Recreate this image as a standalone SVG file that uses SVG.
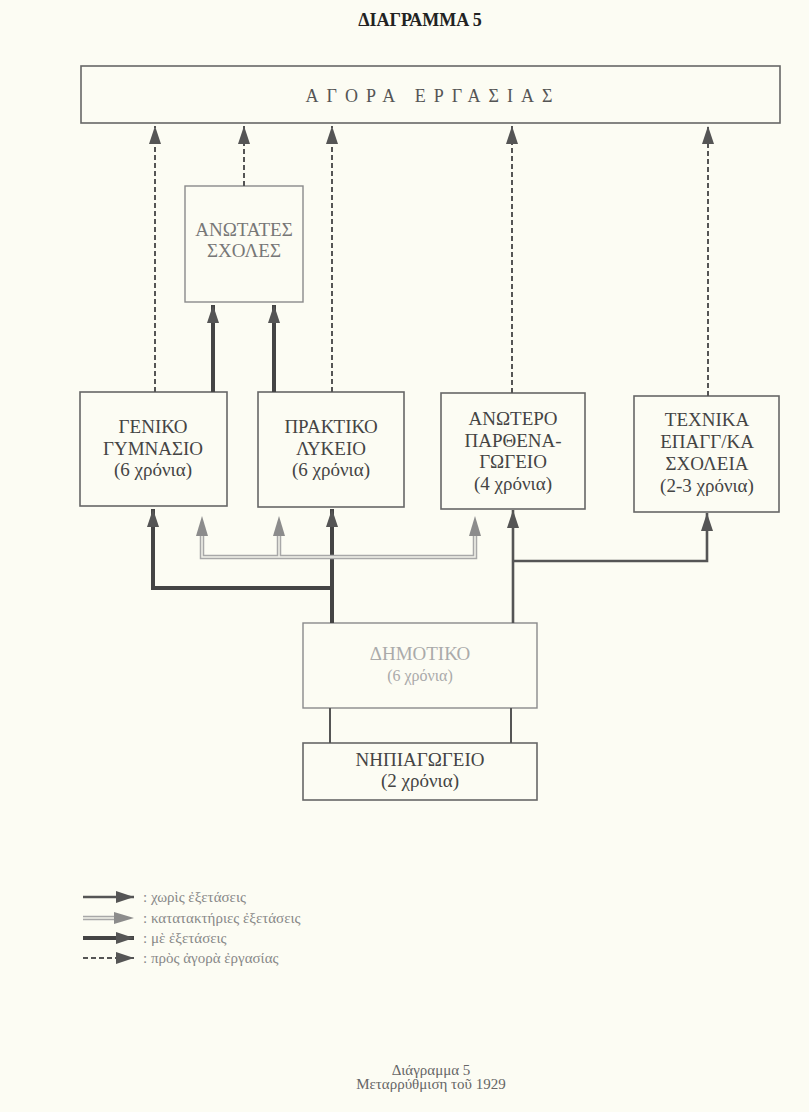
<svg xmlns="http://www.w3.org/2000/svg" width="809" height="1112" viewBox="0 0 809 1112">
<style>
  text { font-family: "Liberation Serif", "DejaVu Serif", "Times New Roman", serif; }
  .box { fill: none; stroke: #666; stroke-width: 1.6; }
  .lbox { fill: none; stroke: #8a8a8a; stroke-width: 1.4; }
  .nt { font-size: 19px; fill: #444; text-anchor: middle; }
  .dash { fill: none; stroke: #555; stroke-width: 2; stroke-dasharray: 5 3; }
  .thick { fill: none; stroke: #444; stroke-width: 4; }
  .med { fill: none; stroke: #555; stroke-width: 2.6; }
  .thin { fill: none; stroke: #555; stroke-width: 2; }
  .grayout { fill: none; stroke: #a8a8a8; stroke-width: 4.5; }
  .grayin { fill: none; stroke: #f2f2ea; stroke-width: 1.5; }
  .ghead { fill: #8c8c8c; }
  .leg { font-size: 15px; fill: #888; }
</style>
<defs>
  <marker id="ah" markerUnits="userSpaceOnUse" markerWidth="20" markerHeight="12" refX="18" refY="6" orient="auto">
    <path d="M0,0 L18,6 L0,12 Z" fill="#555"/>
  </marker>
</defs>
<rect width="809" height="1112" fill="#fcfcf3"/>

<text x="420" y="26" font-size="18" font-weight="bold" fill="#222" text-anchor="middle">ΔΙΑΓΡΑΜΜΑ 5</text>

<g id="agora">
  <rect class="box" x="81" y="66" width="699" height="57"/>
  <text x="433" y="102" font-size="18" fill="#555" text-anchor="middle" letter-spacing="8">ΑΓΟΡΑ  ΕΡΓΑΣΙΑΣ</text>
</g>

<g id="anotates">
  <rect class="lbox" x="185" y="186" width="118" height="116"/>
  <text class="nt" x="244" y="236" style="fill:#777">ΑΝΩΤΑΤΕΣ</text>
  <text class="nt" x="244" y="257" style="fill:#777">ΣΧΟΛΕΣ</text>
</g>

<g id="geniko">
  <rect class="box" x="80" y="392" width="147" height="114"/>
  <text class="nt" x="153" y="433">ΓΕΝΙΚΟ</text>
  <text class="nt" x="153" y="455">ΓΥΜΝΑΣΙΟ</text>
  <text class="nt" x="153" y="476">(6 χρόνια)</text>
</g>

<g id="praktiko">
  <rect class="box" x="258" y="392" width="146" height="115"/>
  <text class="nt" x="331" y="433">ΠΡΑΚΤΙΚΟ</text>
  <text class="nt" x="331" y="455">ΛΥΚΕΙΟ</text>
  <text class="nt" x="331" y="476">(6 χρόνια)</text>
</g>

<g id="anotero">
  <rect class="box" x="441" y="393" width="144" height="116"/>
  <text class="nt" x="513" y="425">ΑΝΩΤΕΡΟ</text>
  <text class="nt" x="513" y="447">ΠΑΡΘΕΝΑ-</text>
  <text class="nt" x="513" y="468">ΓΩΓΕΙΟ</text>
  <text class="nt" x="513" y="490">(4 χρόνια)</text>
</g>

<g id="texnika">
  <rect class="box" x="634" y="396" width="145" height="116"/>
  <text class="nt" x="707" y="426">ΤΕΧΝΙΚΑ</text>
  <text class="nt" x="707" y="448">ΕΠΑΓΓ/ΚΑ</text>
  <text class="nt" x="707" y="470">ΣΧΟΛΕΙΑ</text>
  <text class="nt" x="707" y="492">(2-3 χρόνια)</text>
</g>

<g id="dimotiko">
  <rect class="lbox" x="303" y="623" width="234" height="85"/>
  <text class="nt" x="420" y="660" style="fill:#aaa">ΔΗΜΟΤΙΚΟ</text>
  <text class="nt" x="420" y="681" style="fill:#aaa;font-size:16px">(6 χρόνια)</text>
</g>

<g id="nipiagogeio">
  <rect class="box" x="303" y="743" width="234" height="57"/>
  <text class="nt" x="420" y="766">ΝΗΠΙΑΓΩΓΕΙΟ</text>
  <text class="nt" x="420" y="787">(2 χρόνια)</text>
</g>

<g id="connectors">
  <path class="dash" d="M155,392 V126" marker-end="url(#ah)"/>
  <path class="dash" d="M244,186 V126" marker-end="url(#ah)"/>
  <path class="dash" d="M332,392 V126" marker-end="url(#ah)"/>
  <path class="dash" d="M512,393 V126" marker-end="url(#ah)"/>
  <path class="dash" d="M708,396 V126" marker-end="url(#ah)"/>
  <path class="thick" d="M213,392 V305" marker-end="url(#ah)"/>
  <path class="thick" d="M274,392 V305" marker-end="url(#ah)"/>
  <path class="thick" d="M332,623 V588 H153 V509" marker-end="url(#ah)"/>
  <path class="thick" d="M332,590 V509" marker-end="url(#ah)"/>
  <path class="med" d="M513,623 V510" marker-end="url(#ah)"/>
  <path class="med" d="M513,561 H707 V513" marker-end="url(#ah)"/>
  <path class="grayout" d="M202,535 V557 H475 V535"/>
  <path class="grayout" d="M279,535 V557"/>
  <path class="grayin" d="M202,535 V557 H475 V535"/>
  <path class="grayin" d="M279,535 V557"/>
  <polygon class="ghead" points="202,516 208,536 196,536"/>
  <polygon class="ghead" points="279,516 285,536 273,536"/>
  <polygon class="ghead" points="475,516 481,536 469,536"/>
  <path class="thin" d="M330,708 V743"/>
  <path class="thin" d="M511,708 V743"/>
</g>

<g id="legend">
  <path class="med" d="M83,897 H134" marker-end="url(#ah)"/>
  <path class="grayout" d="M83,918 H115"/>
  <path class="grayin" d="M83,918 H115"/>
  <polygon class="ghead" points="134,918 114,912 114,924"/>
  <path class="thick" d="M83,938 H134" marker-end="url(#ah)"/>
  <path class="dash" d="M83,958 H134" marker-end="url(#ah)"/>
  <text class="leg" x="143" y="902">: χωρὶς ἐξετάσεις</text>
  <text class="leg" x="143" y="923">: κατατακτήριες ἐξετάσεις</text>
  <text class="leg" x="143" y="943">: μὲ ἐξετάσεις</text>
  <text class="leg" x="143" y="963">: πρὸς ἀγορὰ ἐργασίας</text>
</g>

<text x="431" y="1075" font-size="15" fill="#666" text-anchor="middle">Διάγραμμα 5</text>
<text x="431" y="1089" font-size="15" fill="#666" text-anchor="middle">Μεταρρύθμιση τοῦ 1929</text>
</svg>
